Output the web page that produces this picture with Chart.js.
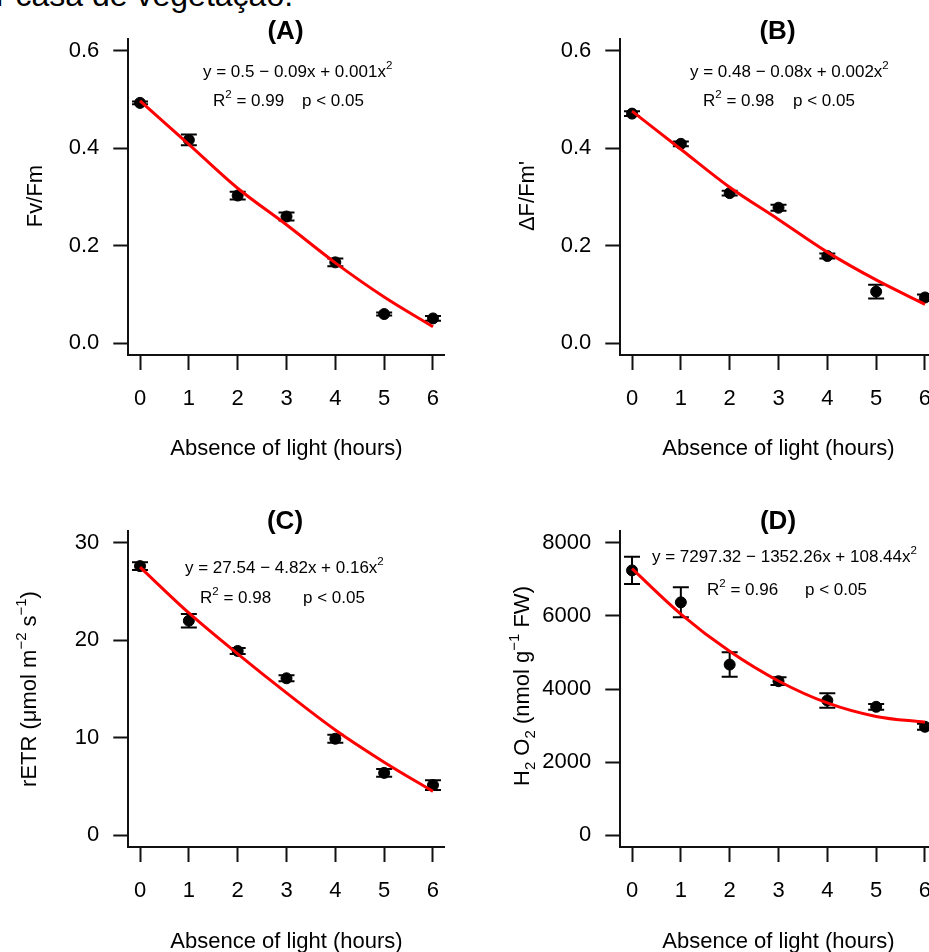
<!DOCTYPE html>
<html>
<head>
<meta charset="utf-8">
<script src="https://cdn.jsdelivr.net/npm/chart.js@4.4.1/dist/chart.umd.min.js"></script>
<style>
  html, body { margin: 0; padding: 0; background: #fff; width: 929px; height: 952px; overflow: hidden; position: relative; }
  canvas { position: absolute; }
  #doc { position: absolute; left: -4px; top: -21px; font: 32px/32px "Liberation Sans", Arial, sans-serif; color: #000; white-space: nowrap; }
</style>
</head>
<body>
<div id="doc">r casa de vegetação.</div>
<canvas id="panelA" width="464" height="476" style="left:0;top:0"></canvas>
<canvas id="panelB" width="464" height="476" style="left:492px;top:0"></canvas>
<canvas id="panelC" width="464" height="476" style="left:0;top:492px"></canvas>
<canvas id="panelD" width="464" height="476" style="left:492px;top:492px"></canvas>
<script>
const FONT = '"Liberation Sans", Arial, Helvetica, sans-serif';

// x: hours without light
const hours = [0, 1, 2, 3, 4, 5, 6];

// (A) Fv/Fm
const fvfm = [0.493, 0.417, 0.303, 0.260, 0.166, 0.060, 0.051];
const fvfmErr = [0.003, 0.011, 0.008, 0.008, 0.008, 0.003, 0.005];
const fvfmFit = [0.497, 0.408, 0.318, 0.243, 0.165, 0.095, 0.034];

// (B) dF/Fm'
const dff = [0.471, 0.409, 0.308, 0.278, 0.179, 0.106, 0.094];
const dffErr = [0.005, 0.005, 0.005, 0.006, 0.005, 0.014, 0.006];
const dffFit = [0.476, 0.398, 0.320, 0.254, 0.187, 0.130, 0.080];

// (C) rETR
const retr = [27.6, 22.0, 18.9, 16.1, 9.9, 6.4, 5.15];
const retrErr = [0.4, 0.7, 0.3, 0.3, 0.4, 0.4, 0.5];
const retrFit = [27.5, 22.8, 18.6, 14.6, 10.8, 7.5, 4.5];

// (D) H2O2
const h2o2 = [7243, 6369, 4668, 4213, 3686, 3513, 2967];
const h2o2Err = [370, 410, 335, 105, 200, 80, 80];
const h2o2Fit = [7290, 6050, 5030, 4220, 3620, 3250, 3090];

const ticksFrac = [0, 0.2, 0.4, 0.6];
const ticksRetr = [0, 10, 20, 30];
const ticksH2o2 = [0, 2000, 4000, 6000, 8000];

// draws a line of text made of normal / sup / sub pieces
function drawRich(ctx, parts, x, y, size, align) {
    let w = 0;
    const items = parts.map(p => {
        const t = typeof p === 'string' ? p : p[0];
        const k = typeof p === 'string' ? 'n' : p[1];
        const fs = k === 'n' ? size : size * 0.68;
        ctx.font = fs + 'px ' + FONT;
        const item = { t, fs, x: w, dy: k === 'sup' ? -size * 0.45 : (k === 'sub' ? size * 0.28 : 0) };
        w += ctx.measureText(t).width;
        return item;
    });
    const x0 = align === 'center' ? x - w / 2 : x;
    ctx.textAlign = 'left';
    ctx.textBaseline = 'alphabetic';
    items.forEach(it => {
        ctx.font = it.fs + 'px ' + FONT;
        ctx.fillText(it.t, x0 + it.x, y + it.dy);
    });
}

const errorBars = {
    id: 'errorBars',
    beforeDatasetsDraw(chart) {
        const ds = chart.data.datasets[1];
        const xs = chart.scales.x, ys = chart.scales.y;
        const ctx = chart.ctx;
        ctx.save();
        ctx.strokeStyle = '#000';
        ctx.lineWidth = 2;
        ds.data.forEach((p, i) => {
            const e = ds.errs[i];
            const px = xs.getPixelForValue(p.x);
            const y1 = ys.getPixelForValue(p.y - e);
            const y2 = ys.getPixelForValue(p.y + e);
            ctx.beginPath();
            ctx.moveTo(px, y1); ctx.lineTo(px, y2);
            ctx.moveTo(px - 8, y1); ctx.lineTo(px + 8, y1);
            ctx.moveTo(px - 8, y2); ctx.lineTo(px + 8, y2);
            ctx.stroke();
        });
        ctx.restore();
    }
};

const panelText = {
    id: 'panelText',
    afterDraw(chart, args, o) {
        const ctx = chart.ctx;
        ctx.save();
        ctx.fillStyle = '#000';
        // panel letter
        ctx.font = 'bold 26px ' + FONT;
        ctx.textAlign = 'center';
        ctx.textBaseline = 'alphabetic';
        ctx.fillText(o.title, o.titleX, o.titleY);
        // equation and stats
        drawRich(ctx, o.eq, o.eqX, o.eqY, 17, 'left');
        drawRich(ctx, o.r2, o.r2X, o.r2Y, 17, 'left');
        drawRich(ctx, ['p < 0.05'], o.pX, o.r2Y, 17, 'left');
        // x title
        drawRich(ctx, ['Absence of light (hours)'], 286.5, o.xtY, 22, 'center');
        // y title
        ctx.translate(o.ytX, o.ytY);
        ctx.rotate(-Math.PI / 2);
        drawRich(ctx, o.yt, 0, 0, 22, 'center');
        ctx.restore();
    }
};

function makePanel(id, mean, err, fit, yTicks, dec, txt) {
    const span = yTicks[yTicks.length - 1] - yTicks[0];
    new Chart(document.getElementById(id), {
        type: 'scatter',
        data: {
            datasets: [
                {
                    type: 'line',
                    data: hours.map((h, i) => ({ x: h, y: fit[i] })),
                    borderColor: '#ff0000',
                    borderWidth: 3,
                    pointRadius: 0,
                    cubicInterpolationMode: 'monotone',
                    fill: false
                },
                {
                    data: hours.map((h, i) => ({ x: h, y: mean[i] })),
                    errs: err,
                    backgroundColor: '#000',
                    borderColor: '#000',
                    pointRadius: 5.5,
                    pointHoverRadius: 5.5
                }
            ]
        },
        options: {
            responsive: false,
            animation: false,
            layout: { padding: { left: 0, top: 39, right: 19.3, bottom: 0 } },
            plugins: {
                legend: { display: false },
                tooltip: { enabled: false },
                panelText: txt
            },
            scales: {
                x: {
                    type: 'linear',
                    min: -0.24,
                    max: 6.24,
                    afterBuildTicks: s => { s.ticks = hours.map(v => ({ value: v })); },
                    afterFit: s => { s.height = 121; s.paddingLeft = 0; s.paddingRight = 0; },
                    grid: { drawOnChartArea: false, drawTicks: true, tickLength: 15, tickWidth: 2, tickColor: '#111' },
                    border: { display: true, color: '#111', width: 2 },
                    ticks: { padding: 16, color: '#000', font: { family: FONT, size: 22 }, maxRotation: 0, autoSkip: false,
                             callback: v => String(v) }
                },
                y: {
                    type: 'linear',
                    min: yTicks[0] - span * 0.04,
                    max: yTicks[yTicks.length - 1] + span * 0.04,
                    afterBuildTicks: s => { s.ticks = yTicks.map(v => ({ value: v })); },
                    afterFit: s => { s.width = 128.3; s.paddingTop = 0; s.paddingBottom = 0; },
                    grid: { drawOnChartArea: false, drawTicks: true, tickLength: 15, tickWidth: 2, tickColor: '#111' },
                    border: { display: true, color: '#111', width: 2 },
                    ticks: { padding: 14, color: '#000', font: { family: FONT, size: 22 }, autoSkip: false,
                             callback: v => v.toFixed(dec) }
                }
            }
        },
        plugins: [errorBars, panelText]
    });
}

makePanel('panelA', fvfm, fvfmErr, fvfmFit, ticksFrac, 1, {
    title: '(A)', titleX: 285.5, titleY: 39,
    eq: ['y = 0.5 \u2212 0.09x + 0.001x', ['2', 'sup']], eqX: 203, eqY: 77,
    r2: ['R', ['2', 'sup'], ' = 0.99'], r2X: 213, r2Y: 106, pX: 302,
    xtY: 455,
    yt: ['Fv/Fm'], ytX: 42, ytY: 196
});
makePanel('panelB', dff, dffErr, dffFit, ticksFrac, 1, {
    title: '(B)', titleX: 285.5, titleY: 39,
    eq: ['y = 0.48 \u2212 0.08x + 0.002x', ['2', 'sup']], eqX: 198, eqY: 77,
    r2: ['R', ['2', 'sup'], ' = 0.98'], r2X: 211, r2Y: 106, pX: 301,
    xtY: 455,
    yt: ['\u0394F/Fm\''], ytX: 42, ytY: 196
});
makePanel('panelC', retr, retrErr, retrFit, ticksRetr, 0, {
    title: '(C)', titleX: 285, titleY: 37,
    eq: ['y = 27.54 \u2212 4.82x + 0.16x', ['2', 'sup']], eqX: 185, eqY: 81,
    r2: ['R', ['2', 'sup'], ' = 0.98'], r2X: 200, r2Y: 111, pX: 303,
    xtY: 456,
    yt: ['rETR (\u03bcmol m', ['\u22122', 'sup'], ' s', ['\u22121', 'sup'], ')'], ytX: 36, ytY: 197
});
makePanel('panelD', h2o2, h2o2Err, h2o2Fit, ticksH2o2, 0, {
    title: '(D)', titleX: 286, titleY: 37,
    eq: ['y = 7297.32 \u2212 1352.26x + 108.44x', ['2', 'sup']], eqX: 160, eqY: 70,
    r2: ['R', ['2', 'sup'], ' = 0.96'], r2X: 215, r2Y: 103, pX: 313,
    xtY: 456,
    yt: ['H', ['2', 'sub'], ' O', ['2', 'sub'], ' (nmol g', ['\u22121', 'sup'], ' FW)'], ytX: 37, ytY: 194
});
</script>
</body>
</html>
